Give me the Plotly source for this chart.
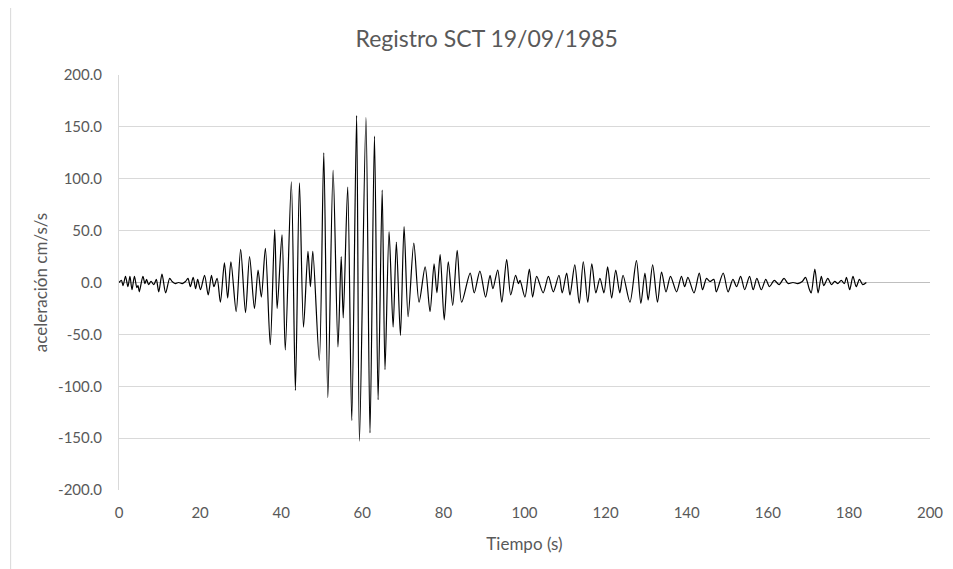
import plotly.graph_objects as go

# Time (s) of each read-off extremum of the SCT 19/09/1985 accelerogram
tiempo = [
    0.0, 0.6, 1.0, 1.6, 2.2, 2.7, 3.2, 3.8, 4.4, 4.7, 5.0, 5.9, 6.4, 6.8, 7.3, 7.9, 8.6, 9.2,
    9.8, 10.6, 11.5, 12.5, 13.1, 13.9, 14.7, 15.6, 16.4, 17.0, 17.6, 18.3, 18.9, 19.4, 20.1,
    21.1, 22.0, 22.8, 23.4, 24.2, 25.0, 26.0, 26.8, 27.6, 28.9, 30.0, 31.2, 32.2, 33.4, 34.3,
    35.1, 36.1, 37.3, 38.4, 39.0, 40.2, 41.0, 42.5, 43.5, 44.5, 45.5, 46.6, 47.2, 47.8, 49.4,
    50.5, 51.5, 52.8, 54.0, 54.8, 55.3, 56.4, 57.4, 58.6, 59.3, 60.9, 61.9, 63.0, 63.9, 64.9,
    65.6, 66.6, 67.6, 68.4, 69.4, 70.3, 71.3, 72.7, 74.0, 75.5, 76.7, 77.7, 78.4, 79.2, 80.2,
    81.2, 82.3, 83.4, 84.5, 86.6, 87.6, 89.0, 90.4, 91.5, 92.2, 93.4, 94.4, 95.6, 96.6, 97.8,
    98.5, 98.9, 100.1, 101.2, 102.0, 103.0, 104.6, 105.9, 107.1, 108.5, 109.3, 110.4, 111.2,
    112.4, 113.5, 114.5, 115.6, 116.6, 117.6, 118.6, 119.6, 120.5, 121.5, 122.5, 123.5, 124.3,
    126.0, 127.6, 128.7, 129.7, 130.5, 131.6, 132.8, 133.8, 134.9, 136.0, 137.5, 138.7, 139.5,
    140.3, 141.8, 143.1, 143.9, 144.9, 145.7, 146.7, 147.3, 149.0, 150.2, 151.4, 152.3, 153.3,
    154.3, 155.5, 156.4, 157.3, 158.4, 159.5, 160.4, 161.6, 162.8, 164.0, 165.0, 166.2, 167.4,
    168.5, 169.3, 170.2, 170.7, 171.6, 172.4, 173.2, 173.8, 174.8, 175.7, 176.5, 177.3, 178.1,
    178.9, 179.4, 180.2, 181.0, 181.8, 182.6, 183.4, 184.3,
]

# Acceleration (cm/s/s) at each of those instants
aceleracion = [
    0, 2, -3, 6, -4, 6, -7, 6, -5, -3, -9, 6, -1, 3, -2, 1, -2, 3,
    -9, 8, -10, 4, 1, -1, 0, -1, 1, 4, -4, 5, -6, 3, -7,
    7, -12, 7, -4, 4, -19, 19, -15, 20, -28, 32, -29, 25, -25, 12,
    -14, 33, -60, 51, -25, 46, -65, 97, -104, 96, -43, 30, -4, 30, -75,
    125, -111, 108, -62, 25, -34, 92, -133, 161, -153, 159, -145, 141, -113, 89,
    -84, 49, -43, 39, -51, 54, -33, 38, -19, 15, -28, 18, -10, 27, -36,
    20, -22, 31, -19, 9, -10, 11, -14, 7, -6, 12, -19, 22, -12, 7,
    -1, 2, -14, 13, -14, 6, -10, 6, -9, 7, -10, 9, -12,
    17, -20, 20, -19, 18, -10, 4, -10, 15, -15, 12, -10, 7,
    -19, 21, -20, 9, -17, 17, -19, 10, -9, 6, -9, 6, -4,
    5, -10, 9, -7, 4, 1, 3, -9, 9, -9, 3, -4, 6,
    -7, 6, -7, 4, -7, 3, -4, 2, -2, 4, -1, 0, -1,
    1, 5, -6, -10, 13, -10, 6, -3, 4, -2, 1, -1, 2,
    -1, 5, -7, 6, -4, 3, -2, 0,
]

x_ticks = [0, 20, 40, 60, 80, 100, 120, 140, 160, 180, 200]
y_ticks = [-200, -150, -100, -50, 0, 50, 100, 150, 200]

FONT = "Lato, 'Open Sans', sans-serif"
GRAY = "#595959"

# The page body adds an 8 px offset; the layout compensates for it.
L, R, T, B = 110.5, 30.5, 67, 87
PW, PH = 953 - L - R, 569 - T - B

fig = go.Figure()
fig.add_trace(go.Scatter(
    x=tiempo, y=aceleracion, mode="lines",
    line=dict(color="black", width=1.2, shape="spline", smoothing=0.8),
    showlegend=False, hoverinfo="x+y",
))

fig.update_layout(
    width=953, height=569,
    paper_bgcolor="white", plot_bgcolor="white",
    margin=dict(l=L, r=R, t=T, b=B, autoexpand=False),
    title=dict(text="Registro SCT 19/09/1985", x=478.7 / 953, xanchor="center",
               y=1 - 31 / 569, yanchor="middle", xref="container", yref="container",
               font=dict(family=FONT, size=23, color=GRAY), automargin=False),
    font=dict(family=FONT, color=GRAY),
    xaxis=dict(range=[0, 200], tickvals=x_ticks, ticktext=[str(v) for v in x_ticks],
               showgrid=False, zeroline=False, showline=False, ticks="",
               automargin=False, ticklabelstandoff=12,
               tickfont=dict(size=15, color=GRAY),
               title=dict(text="Tiempo (s)", font=dict(size=17, color=GRAY), standoff=18)),
    yaxis=dict(range=[-200, 200], tickvals=y_ticks, ticktext=[f"{v:.1f}" for v in y_ticks],
               showgrid=True, gridcolor="#d9d9d9", gridwidth=1,
               zeroline=True, zerolinecolor="#bfbfbf", zerolinewidth=1,
               showline=True, linecolor="#d9d9d9", linewidth=1, ticks="",
               automargin=False, ticklabelstandoff=13,
               tickfont=dict(size=15, color=GRAY),
               title=dict(text="aceleración cm/s/s", font=dict(size=17, color=GRAY), standoff=6)),
    shapes=[dict(type="line", xref="paper", yref="paper",
                 x0=(2 - L) / PW, x1=(2 - L) / PW, y0=-B / PH, y1=(PH + T) / PH,
                 line=dict(color="#d9d9d9", width=1))],
)

fig.write_html("out.html")
